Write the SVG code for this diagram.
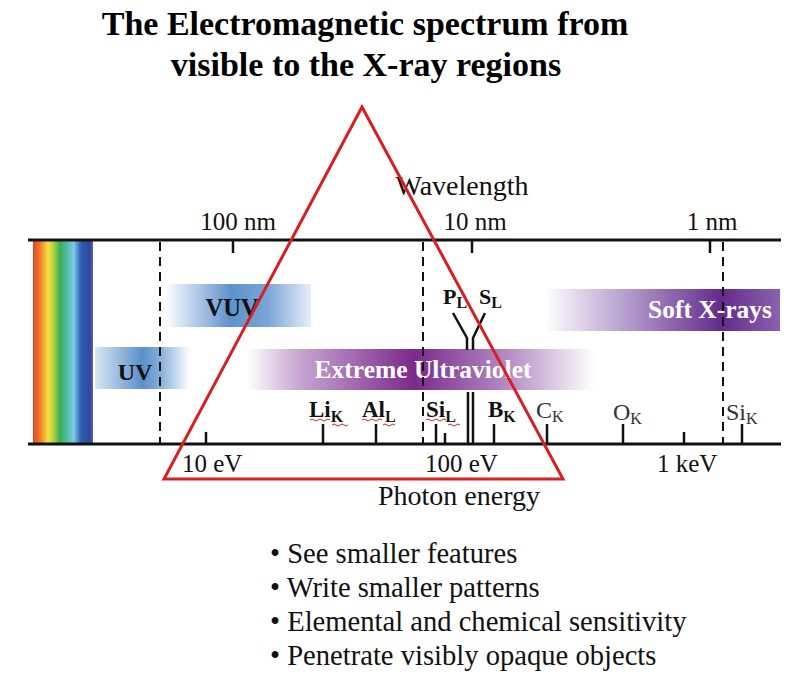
<svg xmlns="http://www.w3.org/2000/svg" width="790" height="676" viewBox="0 0 790 676">
<defs>
<style>
.serif{font-family:"Liberation Serif","Times New Roman",serif;fill:#111}
.b{font-weight:bold}
.title{font-size:34px;font-weight:bold;fill:#000}
.tick{font-size:25px}
.axt{font-size:28px}
.bul{font-size:28.6px}
.el{font-size:23px;font-weight:bold}
.elr{font-size:24px;fill:#333}
.sub{font-size:16px}
.axis{stroke:#111;stroke-width:3;fill:none}
.tk{stroke:#111;stroke-width:2.5;fill:none}
.dash{stroke:#111;stroke-width:2;stroke-dasharray:9 6;fill:none}
.sq{stroke:#d22;stroke-width:1;fill:none}
</style>
<linearGradient id="rainbow" x1="0" x2="1" y1="0" y2="0">
<stop offset="0" stop-color="#e4482b"/>
<stop offset="0.12" stop-color="#f07c2a"/>
<stop offset="0.25" stop-color="#f7e13e"/>
<stop offset="0.35" stop-color="#a9cf45"/>
<stop offset="0.45" stop-color="#3cae52"/>
<stop offset="0.55" stop-color="#4dba9a"/>
<stop offset="0.68" stop-color="#7ccbea"/>
<stop offset="0.8" stop-color="#2f5bb0"/>
<stop offset="0.95" stop-color="#2d4a9e"/>
<stop offset="1" stop-color="#6a5aa8"/>
</linearGradient>
<linearGradient id="uvg" x1="0" x2="1" y1="0" y2="0">
<stop offset="0" stop-color="#dbe7f4"/>
<stop offset="0.5" stop-color="#5a8fca"/>
<stop offset="0.7" stop-color="#8ab2dc"/>
<stop offset="1" stop-color="#ffffff"/>
</linearGradient>
<linearGradient id="vuvg" x1="0" x2="1" y1="0" y2="0">
<stop offset="0" stop-color="#ffffff"/>
<stop offset="0.45" stop-color="#5e92cc"/>
<stop offset="0.7" stop-color="#78a5d6"/>
<stop offset="1" stop-color="#e6eff8"/>
</linearGradient>
<linearGradient id="euvg" x1="0" x2="1" y1="0" y2="0">
<stop offset="0" stop-color="#ffffff"/>
<stop offset="0.15" stop-color="#c7a5d0"/>
<stop offset="0.48" stop-color="#7a2a8c"/>
<stop offset="0.75" stop-color="#b48cc4"/>
<stop offset="1" stop-color="#ffffff"/>
</linearGradient>
<linearGradient id="sxg" x1="0" x2="1" y1="0" y2="0">
<stop offset="0" stop-color="#ffffff"/>
<stop offset="0.35" stop-color="#b49ccc"/>
<stop offset="0.75" stop-color="#632b8c"/>
<stop offset="1" stop-color="#8a62ad"/>
</linearGradient>
</defs>
<rect width="790" height="676" fill="#ffffff"/>

<g id="title">
<text class="serif title" x="365" y="35" text-anchor="middle">The Electromagnetic spectrum from</text>
<text class="serif title" x="366" y="76" text-anchor="middle">visible to the X-ray regions</text>
</g>

<g id="visible-spectrum">
<rect x="33" y="241" width="60" height="203" fill="url(#rainbow)"/>
</g>

<g id="band-uv">
<rect x="95" y="347" width="95" height="42" fill="url(#uvg)"/>
<text class="serif b" x="135" y="380" text-anchor="middle" font-size="24">UV</text>
</g>
<g id="band-vuv">
<rect x="165" y="284" width="146" height="43" fill="url(#vuvg)"/>
<text class="serif b" x="232" y="316" text-anchor="middle" font-size="24.5">VUV</text>
</g>
<g id="band-euv">
<rect x="247" y="349" width="348" height="41" fill="url(#euvg)"/>
<text class="serif b" x="423" y="378" text-anchor="middle" font-size="25.5" style="fill:#fff">Extreme Ultraviolet</text>
</g>
<g id="band-soft-xrays">
<rect x="545" y="289" width="235" height="42" fill="url(#sxg)"/>
<text class="serif b" x="772" y="318" text-anchor="end" font-size="25.5" style="fill:#fff">Soft X-rays</text>
</g>

<g id="axes">
<line class="axis" x1="28" y1="240" x2="781" y2="240"/>
<line class="axis" x1="28" y1="444" x2="781" y2="444"/>
<line class="dash" x1="160" y1="242" x2="160" y2="443"/>
<line class="dash" x1="423" y1="242" x2="423" y2="443"/>
<line class="dash" x1="723" y1="242" x2="723" y2="443"/>
<line class="tk" x1="233" y1="240" x2="233" y2="253"/>
<line class="tk" x1="472" y1="240" x2="472" y2="253"/>
<line class="tk" x1="710" y1="240" x2="710" y2="253"/>
<line class="tk" x1="206" y1="432" x2="206" y2="444"/>
<line class="tk" x1="684" y1="432" x2="684" y2="444"/>
<text class="serif axt" x="462" y="195" text-anchor="middle">Wavelength</text>
<text class="serif tick" x="238" y="230" text-anchor="middle">100 nm</text>
<text class="serif tick" x="475" y="230" text-anchor="middle">10 nm</text>
<text class="serif tick" x="712" y="230" text-anchor="middle">1 nm</text>
<text class="serif tick" x="182" y="472">10 eV</text>
<text class="serif tick" x="425" y="472">100 eV</text>
<text class="serif tick" x="657" y="472">1 keV</text>
<text class="serif axt" x="378" y="505">Photon energy</text>
</g>

<g id="edges">
<line class="tk" x1="323" y1="424" x2="323" y2="444"/>
<line class="tk" x1="376" y1="424" x2="376" y2="444"/>
<line class="tk" x1="436" y1="424" x2="436" y2="444"/>
<line class="tk" x1="445" y1="433" x2="445" y2="444"/>
<line class="tk" x1="494" y1="424" x2="494" y2="444"/>
<line class="tk" x1="547" y1="424" x2="547" y2="444"/>
<line class="tk" x1="623" y1="424" x2="623" y2="444"/>
<line class="tk" x1="742" y1="424" x2="742" y2="444"/>
<line class="tk" x1="468" y1="392" x2="468" y2="444"/>
<line class="tk" x1="473" y1="392" x2="473" y2="444"/>
<path class="tk" d="M453 313 L467 338 L467 350 M485 313 L473 338 L473 350"/>
<text class="serif el" x="309" y="417">Li<tspan class="sub" dy="5">K</tspan></text>
<text class="serif el" x="362" y="417">Al<tspan class="sub" dy="5">L</tspan></text>
<text class="serif el" x="426" y="417">Si<tspan class="sub" dy="5">L</tspan></text>
<text class="serif el" x="488" y="417">B<tspan class="sub" dy="5">K</tspan></text>
<text class="serif elr" x="536" y="418">C<tspan class="sub" dy="4" font-size="17">K</tspan></text>
<text class="serif elr" x="613" y="420">O<tspan class="sub" dy="4" font-size="17">K</tspan></text>
<text class="serif elr" x="726" y="420">Si<tspan class="sub" dy="4" font-size="17">K</tspan></text>
<text class="serif b" x="443" y="304" font-size="22">P<tspan class="sub" dy="4">L</tspan></text>
<text class="serif b" x="479" y="304" font-size="22">S<tspan class="sub" dy="4">L</tspan></text>
<path class="sq" d="M310 420 q2 -2 4 0 t4 0 t4 0 t4 0 t4 0 M332 425 q2 -2 4 0 t4 0 t4 0 t4 0"/>
<path class="sq" d="M362 420 q2 -2 4 0 t4 0 t4 0 t4 0 t4 0 M383 425 q2 -2 4 0 t4 0 t4 0"/>
<path class="sq" d="M426 420 q2 -2 4 0 t4 0 t4 0 t4 0 t4 0 M448 425 q2 -2 4 0 t4 0 t4 0"/>
</g>

<g id="bullets">
<text class="serif bul" x="270" y="563">• See smaller features</text>
<text class="serif bul" x="270" y="597">• Write smaller patterns</text>
<text class="serif bul" x="270" y="631">• Elemental and chemical sensitivity</text>
<text class="serif bul" x="270" y="665">• Penetrate visibly opaque objects</text>
</g>

<g id="triangle">
<polygon points="362,107 164,479 563,479" fill="none" stroke="#d71f1f" stroke-width="3"/>
</g>
</svg>
